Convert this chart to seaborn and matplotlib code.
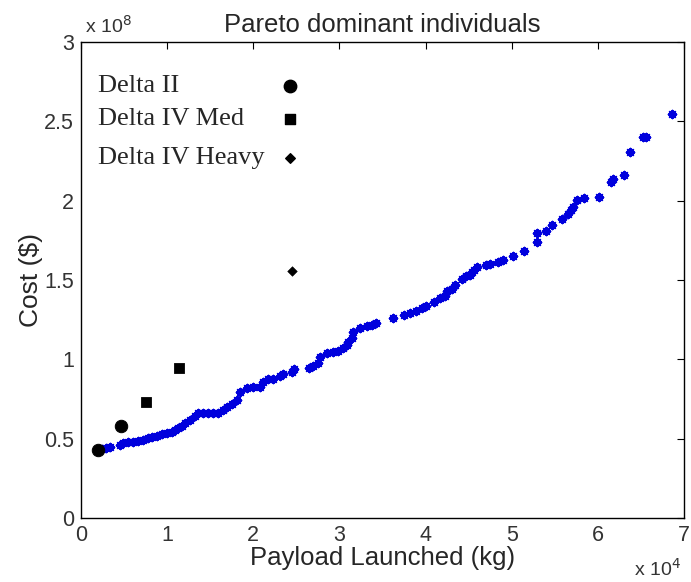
import numpy as np
import pandas as pd
import matplotlib
matplotlib.use("Agg")
import matplotlib.pyplot as plt
import seaborn as sns

# pareto front (payload kg, cost $)
payload = [2440, 2900, 3370, 4530, 4880, 5460, 6040, 6620, 7200, 7780, 8240,
           8820, 9400, 9980, 10560, 10910, 11260, 11720, 12070, 12650, 13230,
           13580, 14160, 14740, 15320, 15900, 16480, 16950, 17530, 18110,
           18460, 19270, 19970, 20780, 21130, 21710, 22290, 23100, 23450,
           24490, 24730, 26470, 26930, 27510, 27750, 28560, 29250, 29840,
           30420, 30880, 31000, 31460, 31580, 32390, 33200, 33780, 34250,
           36220, 37500, 38190, 38890, 39590, 40050, 40980, 41680, 42260,
           42490, 43070, 43420, 44230, 44690, 45160, 45390, 45620, 45970,
           47020, 47480, 48410, 48990, 50150, 51430, 52940, 52940, 53980,
           54680, 55840, 56540, 56880, 57120, 57580, 58390, 60130, 61530,
           61760, 63040, 63730, 65240, 65590, 68610]
cost = [0.435, 0.441, 0.447, 0.460, 0.473, 0.479, 0.479, 0.485, 0.492, 0.504,
        0.510, 0.517, 0.529, 0.536, 0.542, 0.555, 0.567, 0.580, 0.599, 0.618,
        0.643, 0.662, 0.662, 0.662, 0.662, 0.662, 0.681, 0.700, 0.718,
        0.744, 0.794, 0.819, 0.826, 0.826, 0.857, 0.876, 0.876, 0.895, 0.908,
        0.920, 0.939, 0.945, 0.958, 0.977, 1.015, 1.040, 1.046, 1.052, 1.071,
        1.090, 1.109, 1.134, 1.172, 1.197, 1.210, 1.216, 1.229, 1.260, 1.279,
        1.292, 1.305, 1.324, 1.336, 1.361, 1.387, 1.399, 1.431, 1.443, 1.468,
        1.506, 1.525, 1.531, 1.550, 1.563, 1.582, 1.595, 1.601, 1.613, 1.626,
        1.651, 1.683, 1.739, 1.796, 1.809, 1.847, 1.884, 1.916, 1.941, 1.960,
        2.004, 2.017, 2.023, 2.118, 2.137, 2.162, 2.307, 2.401, 2.401, 2.546]
cost = [c * 1e8 for c in cost]

# actual launch vehicles
vehicles = ["Delta II", "Delta II", "Delta IV Med", "Delta IV Med", "Delta IV Heavy"]
veh_payload = [1940, 4700, 7550, 11400, 24500]
veh_cost = [0.43e8, 0.58e8, 0.733e8, 0.945e8, 1.557e8]

# the hand-made key in the upper left
key_names = ["Delta II", "Delta IV Med", "Delta IV Heavy"]
key_text_x = 1970
key_marker_x = 24300
key_y = [2.72e8, 2.515e8, 2.27e8]

markers = {"Delta II": "o", "Delta IV Med": "s", "Delta IV Heavy": "D"}
sizes = {"Delta II": 80, "Delta IV Med": 55, "Delta IV Heavy": 24}

sns.set_style("white")
plt.rcParams['font.family'] = ['Liberation Sans', 'DejaVu Sans']

fig = plt.figure(figsize=(6.91, 5.82), dpi=100)
ax = fig.add_axes([0.1172, 0.110, 0.8727, 0.8178])

pareto = pd.DataFrame({"payload": payload, "cost": cost})
sns.scatterplot(data=pareto, x="payload", y="cost", ax=ax, marker=(8, 2, 0),
                s=28, color="#0000dd", edgecolor="#0000dd", linewidth=1.6,
                legend=False, zorder=2)

veh = pd.DataFrame({"name": vehicles, "payload": veh_payload, "cost": veh_cost})
for name, grp in veh.groupby("name", sort=False):
    sns.scatterplot(data=grp, x="payload", y="cost", ax=ax, marker=markers[name],
                    s=sizes[name], color="black", edgecolor="black",
                    legend=False, zorder=3)

for name, y in zip(key_names, key_y):
    ax.text(key_text_x, y, name, fontsize=19, va="center", ha="left",
            family=["Liberation Serif", "DejaVu Serif"])
    ax.scatter([key_marker_x], [y], marker=markers[name], s=sizes[name],
               color="black", zorder=3)

ax.set_xlim(0, 7e4)
ax.set_ylim(0, 3e8)
ax.set_xticks(np.arange(0, 7.01e4, 1e4))
ax.set_yticks(np.arange(0, 3.01e8, 0.5e8))
ax.set_xticklabels([f"{v:g}" for v in np.arange(0, 7.01, 1)])
ax.set_yticklabels([f"{v:g}" for v in np.arange(0, 3.01, 0.5)])
ax.tick_params(direction="in", length=5, width=0.8, top=True, right=True,
               labelsize=15.5, colors="black", labelcolor="#333333", pad=5)
for sp in ax.spines.values():
    sp.set_color("black")
    sp.set_linewidth(1.0)

ax.set_title("Pareto dominant individuals", fontsize=18.5, pad=7)
ax.set_xlabel("Payload Launched (kg)", fontsize=18.5, labelpad=0)
ax.set_ylabel("Cost ($)", fontsize=19, labelpad=1)
ax.text(0.007, 1.012, r"x 10$^{8}$", transform=ax.transAxes, fontsize=14,
        ha="left", va="bottom", color="#333333")
ax.text(0.995, -0.121, r"x 10$^{4}$", transform=ax.transAxes, fontsize=14,
        ha="right", va="baseline", color="#333333")

fig.savefig("out.png", dpi=100)
